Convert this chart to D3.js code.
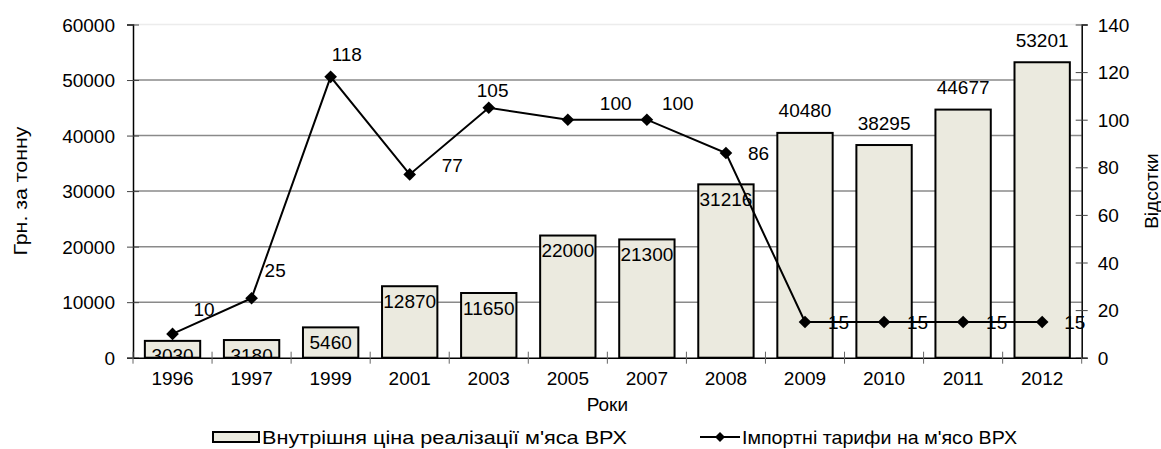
<!DOCTYPE html>
<html lang="uk">
<head>
  <meta charset="UTF-8" />
  <title>Ціна та тарифи на м'ясо ВРХ</title>
  <script src="https://cdnjs.cloudflare.com/ajax/libs/d3/7.8.4/d3.min.js"></script>
  <style>
    body {
      margin: 0;
      background: #fff;
      overflow: hidden;
    }
    svg text {
      font-family: "Liberation Sans", Arial, sans-serif;
      font-size: 19px;
      fill: #000;
    }
  </style>
</head>
<body>
  <svg width="1161" height="449"></svg>
  <script>
    // data
    const years = ["1996", "1997", "1999", "2001", "2003", "2005", "2007", "2008", "2009", "2010", "2011", "2012"];
    const domesticPrice = [3030, 3180, 5460, 12870, 11650, 22000, 21300, 31216, 40480, 38295, 44677, 53201];
    const importTariff = [10, 25, 118, 77, 105, 100, 100, 86, 15, 15, 15, 15];
    const leftTicks = [0, 10000, 20000, 30000, 40000, 50000, 60000];
    const rightTicks = [0, 20, 40, 60, 80, 100, 120, 140];

    const barName = "Внутрішня ціна реалізації м'яса ВРХ";
    const lineName = "Імпортні тарифи на м'ясо ВРХ";

    // where each bar label sits: inside the top of the bar or above it
    const barLabelSide = ["in", "in", "in", "in", "in", "in", "in", "in", "out", "out", "out", "out"];
    // label nudges for the tariff points (dx, dy from the marker, text starts at dx)
    const tariffLabelNudge = [[21, -18], [13, -21.5], [1, -16], [32, -2], [-12, -11], [32, -9.7],
      [15, -9.7], [22, 6.5], [23, 6.5], [23, 6.5], [23, 6.5], [22, 6.5]];

    const margin = { left: 133, right: 1161 - 1081.7, top: 24.5, bottom: 449 - 357.7 };
    const W = 1161, H = 449;
    const svg = d3.select("svg");

    const x = d3.scaleBand().domain(years).range([margin.left, W - margin.right]);
    const yL = d3.scaleLinear().domain([0, 60000]).range([H - margin.bottom, margin.top]);
    const yR = d3.scaleLinear().domain([0, 140]).range([H - margin.bottom, margin.top]);
    const cx = d => x(d) + x.bandwidth() / 2;
    const barW = x.bandwidth() * 0.7;

    svg.append("defs").append("clipPath").attr("id", "plot")
      .append("rect")
      .attr("x", margin.left).attr("y", margin.top)
      .attr("width", W - margin.left - margin.right)
      .attr("height", H - margin.top - margin.bottom);

    // gridlines
    svg.append("g").selectAll("line")
      .data(leftTicks.slice(1))
      .join("line")
      .attr("x1", margin.left).attr("x2", W - margin.right)
      .attr("y1", d => yL(d)).attr("y2", d => yL(d))
      .attr("stroke", d => d === 60000 ? "#ececec" : "#8a8a8a")
      .attr("stroke-width", 1.5);

    // bars
    svg.append("g").selectAll("rect")
      .data(years)
      .join("rect")
      .attr("x", (d) => cx(d) - barW / 2)
      .attr("width", barW)
      .attr("y", (d, i) => yL(domesticPrice[i]))
      .attr("height", (d, i) => yL(0) - yL(domesticPrice[i]))
      .attr("fill", "#ebeadf")
      .attr("stroke", "#000")
      .attr("stroke-width", 2);

    // bar labels
    svg.append("g").attr("clip-path", "url(#plot)")
      .selectAll("text")
      .data(years)
      .join("text")
      .attr("x", d => cx(d))
      .attr("y", (d, i) => yL(domesticPrice[i]) + (barLabelSide[i] === "in" ? 21.5 : -15.5))
      .attr("text-anchor", "middle")
      .text((d, i) => domesticPrice[i]);

    // tariff line
    const line = d3.line()
      .x(d => cx(d))
      .y((d, i) => yR(importTariff[i]));
    svg.append("path")
      .datum(years)
      .attr("d", line)
      .attr("fill", "none")
      .attr("stroke", "#000")
      .attr("stroke-width", 2);

    const diamond = d3.symbol(d3.symbolSquare, 80);
    svg.append("g").selectAll("path")
      .data(years)
      .join("path")
      .attr("d", diamond)
      .attr("transform", (d, i) => `translate(${cx(d)},${yR(importTariff[i])}) rotate(45)`)
      .attr("fill", "#000");

    svg.append("g").selectAll("text")
      .data(years)
      .join("text")
      .attr("x", (d, i) => cx(d) + tariffLabelNudge[i][0])
      .attr("y", (d, i) => yR(importTariff[i]) + tariffLabelNudge[i][1])
      .text((d, i) => importTariff[i]);

    // axes
    const axisL = svg.append("g").attr("transform", `translate(${margin.left},0)`)
      .call(d3.axisLeft(yL).tickValues(leftTicks).tickSize(6).tickPadding(12).tickFormat(d3.format("d")));
    const axisR = svg.append("g").attr("transform", `translate(${W - margin.right},0)`)
      .call(d3.axisRight(yR).tickValues(rightTicks).tickSize(6).tickPadding(10));
    const axisB = svg.append("g").attr("transform", `translate(0,${H - margin.bottom})`)
      .call(d3.axisBottom(x).tickSize(0).tickPadding(14));

    [axisL, axisR, axisB].forEach(g => {
      g.select(".domain").attr("stroke", "#000").attr("stroke-width", 1.5);
      g.selectAll("text").attr("font-size", null).attr("font-family", null);
    });
    axisL.selectAll(".tick line").attr("x2", -6).attr("x1", 6).attr("stroke", "#444");
    axisR.selectAll(".tick line").attr("x1", -6).attr("x2", 6).attr("stroke", "#444");
    axisL.selectAll(".tick text").attr("dy", "0.35em");
    axisR.selectAll(".tick text").attr("dy", "0.35em");

    // category boundary ticks on the x axis
    svg.append("g").selectAll("line")
      .data(years.concat(["end"]))
      .join("line")
      .attr("x1", d => d === "end" ? W - margin.right : x(d))
      .attr("x2", d => d === "end" ? W - margin.right : x(d))
      .attr("y1", H - margin.bottom - 6)
      .attr("y2", H - margin.bottom + 6)
      .attr("stroke", "#666")
      .attr("stroke-width", 1);

    // axis titles
    svg.append("text")
      .attr("transform", `translate(27,${(margin.top + H - margin.bottom) / 2}) rotate(-90)`)
      .attr("text-anchor", "middle")
      .attr("textLength", 129).attr("lengthAdjust", "spacingAndGlyphs")
      .text("Грн. за тонну");
    svg.append("text")
      .attr("transform", `translate(1158,${(margin.top + H - margin.bottom) / 2}) rotate(-90)`)
      .attr("text-anchor", "middle")
      .text("Відсотки");
    svg.append("text")
      .attr("x", (margin.left + W - margin.right) / 2)
      .attr("y", 411)
      .attr("text-anchor", "middle")
      .text("Роки");

    // legend
    const legend = svg.append("g");
    legend.append("rect")
      .attr("x", 213).attr("y", 432).attr("width", 46).attr("height", 10)
      .attr("fill", "#ebeadf").attr("stroke", "#000").attr("stroke-width", 2);
    legend.append("text").attr("x", 262).attr("y", 444)
      .attr("textLength", 365).attr("lengthAdjust", "spacingAndGlyphs")
      .text(barName);
    legend.append("line")
      .attr("x1", 700).attr("x2", 740).attr("y1", 437).attr("y2", 437)
      .attr("stroke", "#000").attr("stroke-width", 2);
    legend.append("path")
      .attr("d", d3.symbol(d3.symbolSquare, 50))
      .attr("transform", "translate(720,437) rotate(45)");
    legend.append("text").attr("x", 742).attr("y", 444)
      .attr("textLength", 275).attr("lengthAdjust", "spacingAndGlyphs")
      .text(lineName);
  </script>
</body>
</html>
